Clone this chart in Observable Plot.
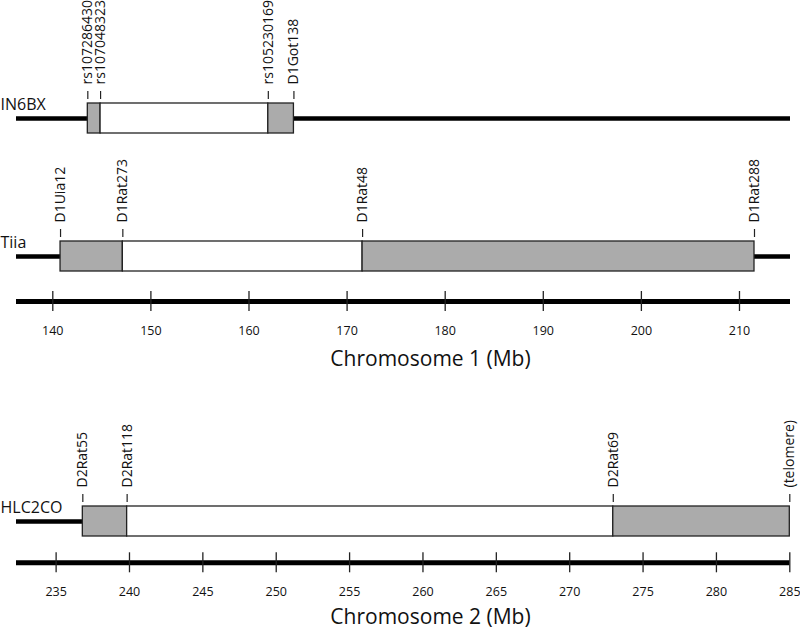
<!DOCTYPE html>
<html>
<head>
<meta charset="utf-8">
<script src="https://cdn.jsdelivr.net/npm/d3@7"></script>
<script src="https://cdn.jsdelivr.net/npm/@observablehq/plot@0.6"></script>
<style>
  html, body { margin: 0; padding: 0; background: #fff; }
  #chart svg { display: block; }
</style>
</head>
<body>
<div id="chart"></div>
<script>
// ---------- data ----------
const chr1Extent = [136.3, 215.2];
const chr2Extent = [232.3, 285];
const chr1Ticks = [140, 150, 160, 170, 180, 190, 200, 210];
const chr2Ticks = [235, 240, 245, 250, 255, 260, 265, 270, 275, 280, 285];
const chr1Title = "Chromosome 1 (Mb)";
const chr2Title = "Chromosome 2 (Mb)";

const in6bxMarkers = ["rs107286430", "rs107048323", "rs105230169", "D1Got138"];
const in6bxPositions = [143.57, 144.87, 161.97, 164.58];

const tiiaMarkers = ["D1Uia12", "D1Rat273", "D1Rat48", "D1Rat288"];
const tiiaPositions = [140.79, 147.14, 171.58, 211.53];

const hlc2coMarkers = ["D2Rat55", "D2Rat118", "D2Rat69", "(telomere)"];
const hlc2coPositions = [236.82, 239.84, 272.97, 285];

// segment kinds between consecutive markers
const segmentKinds = ["flanking", "interval", "flanking"];

// ---------- layout / style ----------
const FONT = "'Open Sans', 'Noto Sans', sans-serif";
const INK = "#111";
const W = 800;

function trackMarks(name, markers, positions, lineY, extent) {
  const boxTop = lineY - 15, boxBottom = lineY + 15;
  const mk = markers.map((m, i) => ({name: m, pos: positions[i]}));
  const segs = segmentKinds.map((k, i) => ({kind: k, x1: positions[i], x2: positions[i + 1]}));
  return [
    Plot.ruleY([{y: lineY, x1: extent[0], x2: extent[1]}], {y: "y", x1: "x1", x2: "x2", stroke: "#000", strokeWidth: 4.5}),
    Plot.rect(segs, {x1: "x1", x2: "x2", y1: () => boxTop, y2: () => boxBottom, fill: "kind", stroke: "#222", strokeWidth: 1.3}),
    Plot.ruleX(mk, {x: "pos", y1: () => boxTop - 12, y2: () => boxTop - 4, stroke: "#222", strokeWidth: 1.2}),
    Plot.text(mk, {x: "pos", y: () => boxTop - 19, text: "name", rotate: -90, textAnchor: "start", lineAnchor: "middle", fontSize: 14, fill: INK}),
    Plot.text([name], {frameAnchor: "left", y: () => lineY - 9, text: d => d, textAnchor: "start", lineAnchor: "bottom", fontSize: 16, fill: INK})
  ];
}

function axisMarks(ticks, extent, axisY, labelY, title, titleY) {
  return [
    Plot.ruleY([{y: axisY, x1: extent[0], x2: extent[1]}], {y: "y", x1: "x1", x2: "x2", stroke: "#000", strokeWidth: 5}),
    Plot.ruleX(ticks, {x: d => d, y1: () => axisY - 10, y2: () => axisY + 10, stroke: "#222", strokeWidth: 1.3}),
    Plot.text(ticks, {x: d => d, y: () => labelY, text: d => String(d), lineAnchor: "bottom", fontSize: 12.5, fill: INK}),
    Plot.text([title], {frameAnchor: "left", dx: 430, y: () => titleY, text: d => d, textAnchor: "middle", lineAnchor: "bottom", fontSize: 21, fill: INK})
  ];
}

function panel(height, extent, xRange, marks) {
  return Plot.plot({
    width: W,
    height,
    marginLeft: 0, marginRight: 0, marginTop: 0, marginBottom: 0,
    style: {fontFamily: FONT, background: "#fff", overflow: "visible"},
    x: {domain: extent, range: xRange, axis: null},
    y: {domain: [0, height], range: [0, height], axis: null},
    color: {domain: ["flanking", "interval"], range: ["#ababab", "#ffffff"]},
    marks
  });
}

const p1 = panel(375, chr1Extent, [16, 790], [
  ...trackMarks("IN6BX", in6bxMarkers, in6bxPositions, 118, chr1Extent),
  ...trackMarks("Tiia", tiiaMarkers, tiiaPositions, 256, chr1Extent),
  ...axisMarks(chr1Ticks, chr1Extent, 301, 334, chr1Title, 365)
]);

const p2 = panel(255, chr2Extent, [16, 789.3], [
  ...trackMarks("HLC2CO", hlc2coMarkers, hlc2coPositions, 146, chr2Extent),
  ...axisMarks(chr2Ticks, chr2Extent, 187.3, 220, chr2Title, 248)
]);

const root = document.getElementById("chart");
root.appendChild(p1);
root.appendChild(p2);
</script>
</body>
</html>
